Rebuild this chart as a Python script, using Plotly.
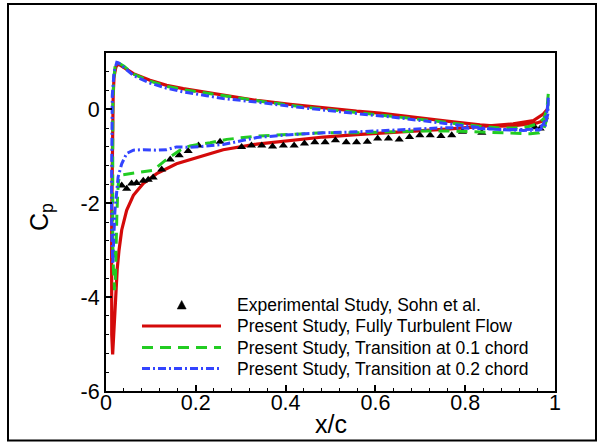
import plotly.graph_objects as go

# ---------------- data ----------------
exp_x = [0.035, 0.046, 0.057, 0.068, 0.083, 0.094, 0.105, 0.124, 0.143, 0.163, 0.183, 0.206,
         0.254, 0.302, 0.324, 0.347, 0.371, 0.395, 0.419, 0.442, 0.465, 0.488, 0.511, 0.535,
         0.558, 0.582, 0.605, 0.629, 0.653, 0.676, 0.699, 0.722, 0.746, 0.770, 0.794, 0.837,
         0.955, 0.967]
exp_cp = [-1.62, -1.69, -1.58, -1.57, -1.52, -1.50, -1.45, -1.28, -1.07, -0.98, -0.89, -0.77,
          -0.69, -0.80, -0.77, -0.77, -0.79, -0.77, -0.77, -0.73, -0.70, -0.70, -0.66, -0.70,
          -0.70, -0.69, -0.62, -0.62, -0.64, -0.59, -0.55, -0.55, -0.57, -0.55, -0.48, -0.50,
          -0.38, -0.41]

red_x = [0.984, 0.975, 0.96, 0.94, 0.91, 0.877, 0.833, 0.759, 0.684, 0.61, 0.558, 0.484, 0.41,
         0.336, 0.261, 0.224, 0.187, 0.172, 0.135, 0.098, 0.061, 0.045, 0.033, 0.027, 0.022,
         0.018, 0.016, 0.015, 0.014, 0.013, 0.0125, 0.012, 0.0128, 0.0148, 0.0175, 0.021,
         0.025, 0.029, 0.031, 0.035, 0.046, 0.061, 0.083, 0.113, 0.157, 0.209, 0.261, 0.336,
         0.41, 0.484, 0.558, 0.633, 0.70, 0.759, 0.833, 0.907, 0.952, 0.974, 0.983]
red_cp = [-0.17, -0.24, -0.29, -0.32, -0.35, -0.36, -0.33, -0.25, -0.16, -0.08, -0.04, 0.03, 0.106,
          0.19, 0.30, 0.37, 0.42, 0.44, 0.51, 0.62, 0.76, 0.86, 0.95, 0.97, 0.90,
          0.70, 0.30, -0.30, -1.0, -2.0, -3.0, -4.0, -4.8, -5.22, -4.7, -4.0,
          -3.4, -3.0, -2.8, -2.57, -2.15, -1.83, -1.58, -1.37, -1.16, -1.01, -0.86, -0.74,
          -0.66, -0.59, -0.54, -0.50, -0.46, -0.42, -0.37, -0.31, -0.24, -0.10, 0.0]

green_x = [0.985, 0.982, 0.975, 0.96, 0.94, 0.91, 0.88, 0.83, 0.76, 0.68, 0.60, 0.52, 0.44, 0.36,
           0.28, 0.224, 0.172, 0.135, 0.098, 0.061, 0.04, 0.028, 0.024, 0.02, 0.017, 0.015,
           0.0145, 0.0145, 0.015, 0.0165, 0.019, 0.021, 0.022, 0.024, 0.026, 0.028, 0.032,
           0.053, 0.083, 0.105, 0.128, 0.143, 0.165, 0.187, 0.232, 0.269, 0.336, 0.41, 0.484,
           0.558, 0.633, 0.70, 0.76, 0.833, 0.907, 0.945, 0.965, 0.975, 0.982, 0.985]
green_cp = [0.33, 0.0, -0.2, -0.31, -0.37, -0.40, -0.40, -0.36, -0.28, -0.19, -0.11, -0.03, 0.05,
            0.15, 0.26, 0.34, 0.42, 0.49, 0.60, 0.75, 0.92, 0.99, 1.0, 0.9, 0.6, 0.0,
            -1.0, -2.0, -2.8, -3.4, -3.85, -3.6, -3.0, -2.3, -1.8, -1.52, -1.40,
            -1.37, -1.33, -1.30, -1.12, -1.01, -0.87, -0.78, -0.71, -0.64, -0.57, -0.53, -0.50,
            -0.50, -0.48, -0.46, -0.46, -0.48, -0.50, -0.52, -0.50, -0.42, -0.2, 0.2]

blue_x = [0.985, 0.984, 0.978, 0.965, 0.93, 0.87, 0.833, 0.759, 0.684, 0.633, 0.558, 0.484, 0.41,
          0.336, 0.261, 0.224, 0.172, 0.135, 0.098, 0.061, 0.039, 0.028, 0.024, 0.018, 0.014,
          0.013, 0.0125, 0.0125, 0.0135, 0.015, 0.017, 0.02, 0.027, 0.035, 0.046, 0.061, 0.083,
          0.113, 0.135, 0.157, 0.187, 0.22, 0.261, 0.306, 0.336, 0.41, 0.484, 0.558, 0.633,
          0.684, 0.759, 0.833, 0.88, 0.93, 0.965, 0.975, 0.982, 0.985]
blue_cp = [0.25, -0.1, -0.35, -0.44, -0.45, -0.43, -0.39, -0.30, -0.22, -0.16, -0.09, -0.02, 0.064,
           0.155, 0.23, 0.29, 0.37, 0.45, 0.56, 0.72, 0.90, 0.99, 1.0, 0.8, 0.3,
           -0.5, -1.5, -2.5, -3.2, -3.3, -2.8, -2.15, -1.44, -1.16, -0.94, -0.87, -0.86,
           -0.87, -0.86, -0.80, -0.81, -0.79, -0.75, -0.66, -0.60, -0.54, -0.50, -0.48, -0.45,
           -0.42, -0.39, -0.41, -0.43, -0.43, -0.42, -0.3, -0.05, 0.2]

labels = ["Experimental Study, Sohn et al.",
          "Present Study, Fully Turbulent Flow",
          "Present Study, Transition at 0.1 chord",
          "Present Study, Transition at 0.2 chord"]

x_ticks = [0, 0.2, 0.4, 0.6, 0.8, 1]
x_ticklabels = ["0", "0.2", "0.4", "0.6", "0.8", "1"]
y_ticks = [-6, -4, -2, 0]
y_ticklabels = ["-6", "-4", "-2", "0"]

RED = "#d40a0a"
GREEN = "#22cc22"
BLUE = "#3344ff"
FONT = "Liberation Sans, Arial, sans-serif"

# ---------------- figure ----------------
W, H = 599, 443
ML, MR, MT, MB = 106, 44, 53, 52
PW, PH = W - ML - MR, H - MT - MB


def px(xp):
    return (xp - ML) / PW


def py(yp):
    return (H - MB - yp) / PH


fig = go.Figure()
fig.add_trace(go.Scatter(x=red_x, y=red_cp, mode="lines", name=labels[1], showlegend=False,
                         line=dict(color=RED, width=3.2)))
fig.add_trace(go.Scatter(x=exp_x, y=exp_cp, mode="markers", name=labels[0], showlegend=False,
                         marker=dict(symbol="triangle-up", size=8, color="black")))
fig.add_trace(go.Scatter(x=green_x, y=green_cp, mode="lines", name=labels[2], showlegend=False,
                         line=dict(color=GREEN, width=3, dash="11px,7px")))
fig.add_trace(go.Scatter(x=blue_x, y=blue_cp, mode="lines", name=labels[3], showlegend=False,
                         line=dict(color=BLUE, width=3, dash="8px,3px,2px,3px")))

shapes = []
# outer frame
shapes.append(dict(type="rect", xref="paper", yref="paper",
                   x0=px(8), x1=px(596), y0=py(440.5), y1=py(4),
                   line=dict(color="black", width=2)))

# custom legend
rows = [305, 326, 347.5, 368.5]
lx0, lx1, tx = 142, 221, 235
cx, cy = 181.7, rows[0]
shapes.append(dict(type="path", xref="paper", yref="paper",
                   path=f"M {px(cx-4.5)},{py(cy+4)} L {px(cx+4.5)},{py(cy+4)} L {px(cx)},{py(cy-4.5)} Z",
                   fillcolor="black", line=dict(color="black", width=0.5)))
styles = [(RED, "solid"), (GREEN, "11px,7px"), (BLUE, "8px,3px,2px,3px")]
for (col, dash), ry in zip(styles, rows[1:]):
    shapes.append(dict(type="line", xref="paper", yref="paper",
                       x0=px(lx0), x1=px(lx1), y0=py(ry), y1=py(ry),
                       line=dict(color=col, width=3, dash=dash)))

annotations = []
for lab, ry in zip(labels, rows):
    annotations.append(dict(xref="paper", yref="paper", x=px(tx), y=py(ry),
                            xanchor="left", yanchor="middle", text=lab, showarrow=False,
                            font=dict(family=FONT, size=17.5, color="black")))
# axis titles
annotations.append(dict(xref="paper", yref="paper", x=0.5, y=py(424),
                        xanchor="center", yanchor="middle", text="x/c", showarrow=False,
                        font=dict(family=FONT, size=25, color="black")))
annotations.append(dict(xref="paper", yref="paper", x=px(41), y=py(217),
                        xanchor="center", yanchor="middle", text="C<sub>p</sub>", showarrow=False,
                        textangle=-90, font=dict(family=FONT, size=25, color="black")))

fig.update_layout(
    width=W, height=H, autosize=False,
    margin=dict(l=ML, r=MR, t=MT, b=MB),
    paper_bgcolor="white", plot_bgcolor="white",
    font=dict(family=FONT, color="black"),
    shapes=shapes, annotations=annotations,
    showlegend=False,
    xaxis=dict(range=[0, 1], tickvals=x_ticks, ticktext=x_ticklabels,
               showgrid=False, zeroline=False, automargin=False,
               showline=True, linecolor="black", linewidth=2, mirror=True,
               ticks="inside", ticklen=6, tickwidth=1.5, tickcolor="black",
               ticklabelstandoff=-9,
               tickfont=dict(family=FONT, size=21.5),
               minor=dict(dtick=0.04, tick0=0, ticks="inside", ticklen=3, tickwidth=1, tickcolor="black")),
    yaxis=dict(range=[-6, 1.2], tickvals=y_ticks, ticktext=y_ticklabels,
               showgrid=False, zeroline=False, automargin=False,
               showline=True, linecolor="black", linewidth=2, mirror=True,
               ticks="inside", ticklen=6, tickwidth=1.5, tickcolor="black",
               tickfont=dict(family=FONT, size=21.5),
               minor=dict(dtick=0.4, tick0=0, ticks="inside", ticklen=3, tickwidth=1, tickcolor="black")),
)

fig.write_html("out.html")
